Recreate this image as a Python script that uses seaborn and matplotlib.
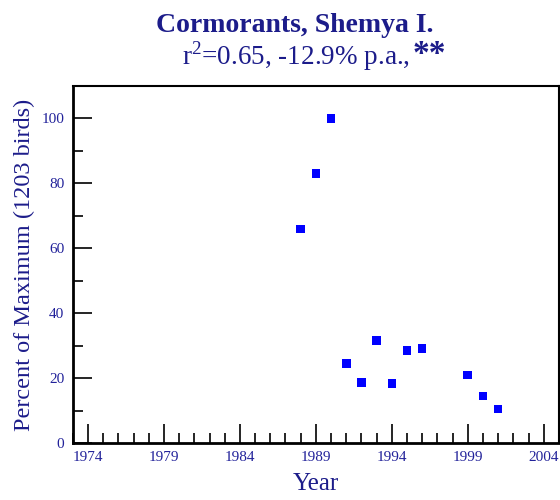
import matplotlib
matplotlib.use("Agg")
import matplotlib.pyplot as plt
import seaborn as sns
import pandas as pd
from matplotlib.ticker import MultipleLocator, FixedLocator

years = [1988, 1989, 1990, 1991, 1992, 1993, 1994, 1995, 1996, 1999, 2000, 2001]
percent = [66, 83, 100, 24.5, 18.6, 31.6, 18.4, 28.5, 29.1, 21.0, 14.5, 10.5]
xticks = [1974, 1979, 1984, 1989, 1994, 1999, 2004]

sns.set_theme(style="white")
plt.rcParams['font.family'] = ['Liberation Serif', 'DejaVu Serif']
plt.rcParams['mathtext.fontset'] = 'custom'
plt.rcParams['mathtext.rm'] = 'Liberation Serif'
plt.rcParams['mathtext.bf'] = 'Liberation Serif:bold'

navy = '#1c1c8a'
ticknavy = '#22229a'
df = pd.DataFrame({'Year': years, 'Percent': percent})

fig = plt.figure(figsize=(5.6, 5.0), dpi=100)
ax = fig.add_axes([0.130, 0.114, 0.868, 0.714])
sns.scatterplot(data=df, x='Year', y='Percent', marker='s', s=38, color='#0000ff',
                edgecolor='none', ax=ax, zorder=3)

ax.set_xlim(1973, 2005)
ax.set_ylim(0, 110)
ax.xaxis.set_major_locator(FixedLocator(xticks))
ax.xaxis.set_minor_locator(MultipleLocator(1))
ax.yaxis.set_major_locator(MultipleLocator(20))
ax.yaxis.set_minor_locator(MultipleLocator(10))
ax.tick_params(axis='both', which='major', direction='in', length=14, width=1.2,
               color='black', labelsize=11, labelcolor=ticknavy, bottom=True, left=True)
ax.tick_params(axis='both', which='minor', direction='in', length=7, width=1.2,
               color='black', bottom=True, left=True)
ax.tick_params(axis='x', which='major', pad=6)
ax.tick_params(axis='y', which='major', pad=6)
for side in ['left', 'bottom']:
    ax.spines[side].set_linewidth(2.0)
for side in ['top', 'right']:
    ax.spines[side].set_linewidth(1.5)
for s in ax.spines.values():
    s.set_color('black')

ax.set_xlabel('Year', fontsize=18, color=navy, labelpad=6)
ax.set_ylabel('Percent of Maximum (1203 birds)', fontsize=17.5, color=navy, labelpad=5)

fig.text(0.527, 0.9366, 'Cormorants, Shemya I.', ha='center', va='baseline',
         fontsize=20, fontweight='bold', color=navy)
sub = fig.text(0.325, 0.87, r'r$^{2}$=0.65, -12.9% p.a.,', ha='left', va='baseline',
               fontsize=19.5, color=navy)
fig.canvas.draw()
bb = sub.get_window_extent()
fig.text((bb.x1 + 3) / fig.bbox.width, 0.875, '**', ha='left', va='baseline',
         fontsize=24, fontweight='bold', color=navy)

fig.savefig('out.png', dpi=100)
